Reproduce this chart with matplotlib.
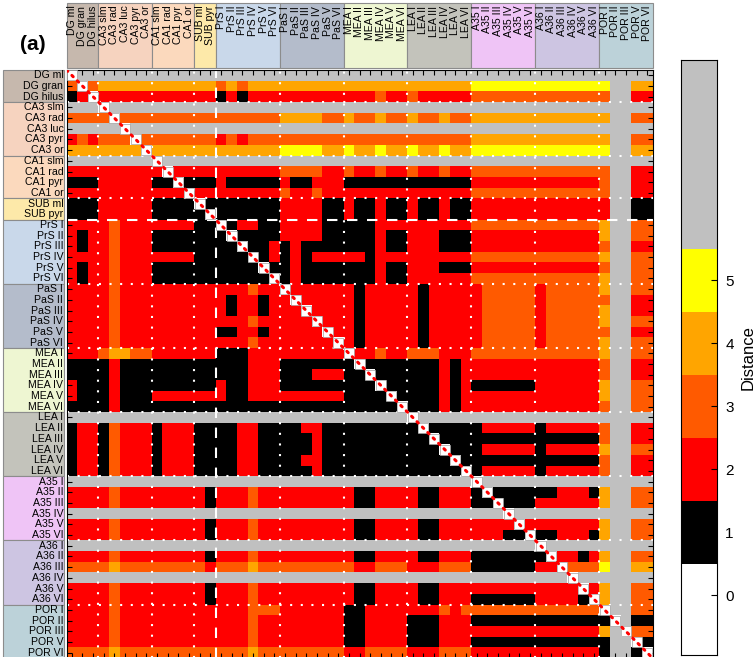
import numpy as np
import matplotlib
matplotlib.use("Agg")
import matplotlib.pyplot as plt
from matplotlib.colors import ListedColormap, BoundaryNorm
from matplotlib.patches import Rectangle

plt.rcParams['font.family'] = ['Liberation Sans', 'DejaVu Sans']

# Regions and their layers (row and column order of the matrix)
groups = ["DG", "CA3", "CA1", "SUB", "PrS", "PaS", "MEA", "LEA", "A35", "A36", "POR"]
layers = {
    "DG": ["ml", "gran", "hilus"],
    "CA3": ["slm", "rad", "luc", "pyr", "or"],
    "CA1": ["slm", "rad", "pyr", "or"],
    "SUB": ["ml", "pyr"],
    "PrS": ["I", "II", "III", "IV", "V", "VI"],
    "PaS": ["I", "II", "III", "IV", "V", "VI"],
    "MEA": ["I", "II", "III", "IV", "V", "VI"],
    "LEA": ["I", "II", "III", "IV", "V", "VI"],
    "A35": ["I", "II", "III", "IV", "V", "VI"],
    "A36": ["I", "II", "III", "IV", "V", "VI"],
    "POR": ["I", "II", "III", "V", "VI"],
}
group_colors = {
    "DG": "#c6b8ad", "CA3": "#f6d3bf", "CA1": "#fbd9bd", "SUB": "#fde9a9",
    "PrS": "#c9d8ea", "PaS": "#b4bccb", "MEA": "#eef6d2", "LEA": "#c3c3bb",
    "A35": "#efc4f6", "A36": "#cdc5e2", "POR": "#bcd2d9",
}

# Path distance between layers; 'g' = no path
# column blocks: DG | CA3 | CA1 | SUB | PrS | PaS | MEA | LEA | A35 | A36 | POR
rows_dg = [
    "0gg ggggg gggg gg gggggg gggggg gggggg gggggg gggggg gggggg ggggg",
    "303 44444 4444 44 343444 444444 444444 444444 555555 555555 5gg44",
    "120 22222 2222 22 121222 222222 222322 322222 333333 333333 3gg22",
]
rows_ca3 = [
    "ggg 0gggg gggg gg gggggg gggggg gggggg gggggg gggggg gggggg ggggg",
    "333 30333 3333 33 333333 444433 433433 433433 444444 444444 4gg33",
    "ggg gg0gg gggg gg gggggg gggggg gggggg gggggg gggggg gggggg ggggg",
    "232 33303 3333 33 232333 333333 333333 333333 444444 444444 4gg33",
    "444 44440 4444 44 444444 555544 544544 544544 555555 555555 5gg44",
]
rows_ca1 = [
    "ggg ggggg 0ggg gg gggggg gggggg gggggg gggggg gggggg gggggg ggggg",
    "222 22222 2022 22 222222 333322 322322 322322 333333 333333 3gg22",
    "111 22222 1101 11 211111 211222 111111 111111 222222 222222 3gg22",
    "222 22222 2220 22 222222 322322 222222 222222 333333 333333 3gg22",
]
rows_sub = [
    "111 22222 1111 01 111111 222211 211211 211211 222222 222222 2gg11",
    "111 22222 1111 10 111111 222211 211211 211211 222222 222222 2gg11",
]
rows_prs = [
    "222 23222 2222 11 012211 222211 111222 222222 333333 333333 4gg33",
    "212 23222 1111 11 101111 222211 111211 222111 222222 222222 4gg33",
    "212 23222 1111 11 110112 121111 111211 222111 222222 222222 3gg22",
    "222 23222 2222 11 111012 121222 221222 222222 333333 333333 4gg33",
    "212 23222 1111 11 111101 121111 111211 222111 222222 222222 3gg33",
    "212 23222 1111 11 111110 121111 111211 222222 333333 333333 4gg33",
]
rows_pas = [
    "222 23222 2222 22 222322 022222 212222 212222 233333 233333 4gg33",
    "222 23222 2222 22 212212 202222 212222 212222 233333 233333 3gg22",
    "222 23222 2222 22 212212 220222 212222 212222 233333 233333 4gg22",
    "222 23222 2222 22 222322 222022 212222 212222 233333 233333 4gg33",
    "222 23222 2222 22 112212 222202 212222 212222 233333 233333 3gg22",
    "222 23222 2222 22 222322 222220 212222 212222 233333 233333 4gg33",
]
rows_mea = [
    "222 34433 2222 22 111222 222222 022322 333222 333333 333333 4gg33",
    "111 12111 1111 11 111222 111111 101111 111212 222222 222222 3gg22",
    "111 12111 1111 11 111222 111222 110111 111212 222222 222222 3gg22",
    "211 12111 1111 11 211222 111111 111011 111212 111111 222222 4gg33",
    "211 12111 2222 22 211222 222222 111101 111212 222222 222222 4gg33",
    "111 12111 1111 11 111111 111111 111110 111212 222222 222222 3gg33",
]
rows_lea = [
    "ggg ggggg gggg gg gggggg gggggg gggggg 0ggggg gggggg gggggg ggggg",
    "122 13222 1222 11 112211 112211 111111 101111 122222 122222 3gg22",
    "122 13222 1222 11 112211 111211 111111 110111 111111 111111 3gg22",
    "122 13222 1222 11 112211 111211 111111 111011 122222 122222 4gg33",
    "122 13222 1222 11 112211 112211 111111 111101 111111 111111 3gg22",
    "122 13222 1222 11 112211 111211 111111 111110 122222 122222 3gg22",
]
rows_a35 = [
    "ggg ggggg gggg gg gggggg gggggg gggggg gggggg 0ggggg gggggg ggggg",
    "222 23222 2222 21 222322 222222 211222 211222 101111 112221 4gg33",
    "222 23222 2222 21 222322 222222 211222 211222 110111 222222 4gg33",
    "ggg ggggg gggg gg gggggg gggggg gggggg gggggg ggg0gg gggggg ggggg",
    "222 23222 2222 21 222322 222222 211222 211222 222202 222222 4gg33",
    "222 23222 2222 21 222322 222222 211222 211222 222110 112221 4gg33",
]
rows_a36 = [
    "ggg ggggg gggg gg gggggg gggggg gggggg gggggg gggggg 0ggggg ggggg",
    "222 23222 2222 21 222322 222222 211222 211222 111111 102212 4gg33",
    "333 34333 3333 32 333433 333333 322333 222333 111111 220333 5gg44",
    "ggg ggggg gggg gg gggggg gggggg gggggg gggggg gggggg ggg0gg ggggg",
    "222 23222 2222 21 222322 222222 211222 211222 222222 222202 4gg33",
    "222 23222 2222 21 222322 222222 211222 211222 111111 222210 4gg33",
]
rows_por = [
    "222 23222 2222 22 222333 222222 112222 222323 333333 333333 0gg33",
    "222 23222 2222 22 222322 222222 112222 111222 111111 111111 10g11",
    "222 23222 2222 22 222322 222222 112222 111222 222222 222222 4g033",
    "222 23222 2222 22 222322 222222 112222 111222 111111 111111 1gg01",
    "333 34333 3333 33 333433 333333 223333 222333 222222 222222 1gg10",
]

labels = [f"{g} {l}" for g in groups for l in layers[g]]
n = len(labels)
all_rows = rows_dg + rows_ca3 + rows_ca1 + rows_sub + rows_prs + rows_pas + \
    rows_mea + rows_lea + rows_a35 + rows_a36 + rows_por
M = np.array([[6 if ch == "g" else int(ch) for ch in r.replace(" ", "")]
              for r in all_rows], dtype=float)

level_colors = ["#ffffff", "#000000", "#ff0000", "#ff5a00",
                "#ffa500", "#ffff00", "#c0c0c0"]
cmap = ListedColormap(level_colors)
norm = BoundaryNorm(np.arange(-0.5, 7.0, 1.0), cmap.N)

W, H = 756, 657
fig = plt.figure(figsize=(W / 100, H / 100), dpi=100)
x0, x1, y0, y1 = 66.5, 652.5, 70.0, 658.0
ax = fig.add_axes([x0 / W, 1 - y1 / H, (x1 - x0) / W, (y1 - y0) / H])
ax.pcolormesh(np.arange(n + 1), np.arange(n + 1), M, cmap=cmap, norm=norm)
ax.set_xlim(0, n)
ax.set_ylim(n, 0)

# diagonal cells
idx = np.arange(n) + 0.5
ax.scatter(idx, idx, marker="s", s=44, facecolor="white", edgecolor="#a0a0a0",
           linewidth=0.5, zorder=3)
ax.plot([0, n], [0, n], color="red", lw=2.2, ls=(0, (0.6, 1.9)),
        dash_capstyle="round", zorder=4)

# group boundaries
sizes = [len(layers[g]) for g in groups]
bounds = np.cumsum(sizes)[:-1]
for b in bounds:
    if b == 14:
        ls = (0, (5.0, 4.6))
    else:
        ls = (0, (1.0, 4.1))
    ax.axhline(b, color="white", lw=1.5, ls=ls, zorder=2)
    ax.axvline(b, color="white", lw=1.5, ls=ls, zorder=2)

ax.set_xticks(idx)
ax.set_yticks(idx)
ax.set_xticklabels([])
ax.set_yticklabels([])
ax.tick_params(direction="in", length=3.5, width=0.8, top=True, right=True,
               bottom=True, left=True)
for s in ax.spines.values():
    s.set_linewidth(0.8)

# label boxes along the top and the left
box_top = -6.27
box_left = -5.96
start = 0
for g, sz in zip(groups, sizes):
    col = group_colors[g]
    ax.add_patch(Rectangle((start, box_top), sz, -box_top - 0.2, facecolor=col,
                           edgecolor="#8c8c8c", lw=0.8, clip_on=False, zorder=1))
    ax.add_patch(Rectangle((box_left, start), -box_left - 0.23, sz, facecolor=col,
                           edgecolor="#8c8c8c", lw=0.8, clip_on=False, zorder=1))
    start += sz

for i, lab in enumerate(labels):
    ax.text(i + 0.5, box_top + 0.25, lab, rotation=90, ha="center", va="top",
            fontsize=7.6, clip_on=False)
    ax.text(-0.3, i + 0.5, lab, ha="right", va="center", fontsize=7.6,
            clip_on=False)

fig.text(20 / W, 1 - 45 / H, "(a)", fontsize=15, fontweight="bold",
         ha="left", va="center")

# colour bar: one band per distance level, grey band = no path
cax = fig.add_axes([681 / W, 1 - 655 / H, 36 / W, 595 / H])
band_lo = [-0.95, 0.5, 1.5, 2.5, 3.5, 4.5, 5.5]
band_hi = [0.5, 1.5, 2.5, 3.5, 4.5, 5.5, 8.5]
for k in range(7):
    cax.add_patch(Rectangle((0, band_lo[k]), 1, band_hi[k] - band_lo[k],
                            facecolor=level_colors[k], edgecolor="none"))
cax.set_xlim(0, 1)
cax.set_ylim(-0.95, 8.5)
cax.set_xticks([])
cax.yaxis.tick_right()
cax.set_yticks(range(6))
cax.tick_params(axis="y", direction="in", length=4, labelsize=11, pad=6)
cax.set_ylabel("Distance", fontsize=12, rotation=90, labelpad=5)
cax.yaxis.set_label_position("right")

fig.savefig("out.png", dpi=100)
